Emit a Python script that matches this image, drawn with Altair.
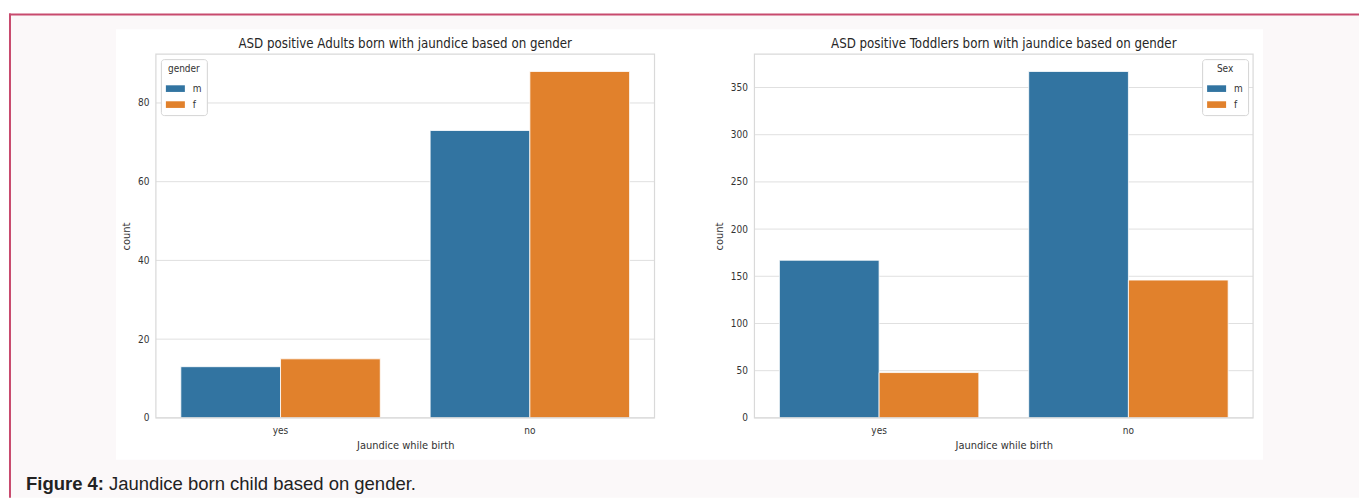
import altair as alt
import pandas as pd

# ---- data -------------------------------------------------------------
jaundice = ["yes", "no"]
sexes = ["m", "f"]

adult_m = [13, 73]
adult_f = [15, 88]
toddler_m = [167, 367]
toddler_f = [48, 146]

adult_ticks = [0, 20, 40, 60, 80]
toddler_ticks = [0, 50, 100, 150, 200, 250, 300, 350]

adult_title = "ASD positive Adults born with jaundice based on gender"
toddler_title = "ASD positive Toddlers born with jaundice based on gender"
caption_bold = "Figure 4:"
caption_text = "Jaundice born child based on gender."

# ---- style ------------------------------------------------------------
BLUE = "#3274a1"
ORANGE = "#e1812c"
GRID = "#e0e0e0"
SPINE = "#d9d9d9"
INK = "#333333"
FONT = "DejaVu Sans Condensed, DejaVu Sans"
CAP_FONT = "Liberation Sans, Arial, sans-serif"
W, H = 499, 364          # plot area of each panel
PANEL_GAP = 100


def table(m_vals, f_vals):
    rows = []
    for j, m, f in zip(jaundice, m_vals, f_vals):
        rows.append({"jaundice": j, "sex": "m", "count": m})
        rows.append({"jaundice": j, "sex": "f", "count": f})
    return pd.DataFrame(rows)


one = pd.DataFrame({"k": [0]})


def panel(df, ticks, title, legend_title, legend_orient, extra_back=None, extra_front=None):
    ymax = df["count"].max() * 1.05
    yscale = alt.Scale(domain=[0, ymax], nice=False, zero=True)

    yaxis = alt.Axis(
        title="count", values=ticks, format="d", grid=False, ticks=False, tickSize=0,
        domain=False, labelPadding=7, titlePadding=6, labelFont=FONT, labelFontSize=10,
        labelColor=INK, titleFont=FONT, titleFontSize=11, titleFontWeight="normal",
        titleColor=INK, zindex=1,
    )
    xaxis = alt.Axis(
        title="Jaundice while birth", labelAngle=0, grid=False, ticks=False, tickSize=0,
        domain=False, labelPadding=8, titlePadding=4, labelFont=FONT, labelFontSize=10,
        labelColor=INK, titleFont=FONT, titleFontSize=11, titleFontWeight="normal",
        titleColor=INK, zindex=1,
    )

    grid = alt.Chart(pd.DataFrame({"count": ticks})).mark_rule(
        color=GRID, strokeWidth=1
    ).encode(
        y=alt.Y("count:Q", scale=yscale, axis=yaxis),
        x=alt.value(0),
        x2=alt.value(W),
    )

    bars = alt.Chart(df).mark_bar(stroke="white", strokeWidth=0.8).encode(
        x=alt.X("jaundice:N", sort=jaundice, axis=xaxis,
                scale=alt.Scale(paddingInner=0.2, paddingOuter=0.1)),
        xOffset=alt.XOffset("sex:N", sort=sexes,
                            scale=alt.Scale(paddingInner=0, paddingOuter=0)),
        y=alt.Y("count:Q", scale=yscale, axis=yaxis),
        color=alt.Color(
            "sex:N",
            scale=alt.Scale(domain=sexes, range=[BLUE, ORANGE]),
            legend=alt.Legend(
                title=legend_title, orient=legend_orient, offset=5,
                fillColor="white", strokeColor="#d4d4d4", cornerRadius=3, padding=5,
                symbolType="M-1,-0.35L1,-0.35L1,0.35L-1,0.35Z", symbolSize=361,
                symbolStrokeWidth=0, labelFont=FONT, labelFontSize=10, labelColor=INK,
                labelOffset=8, titleFont=FONT, titleFontSize=10, rowPadding=1,
                titleFontWeight="normal", titleColor=INK, titleAnchor="middle",
                zindex=1,
            ),
        ),
    )

    frame = alt.Chart(one).mark_rect(filled=False, stroke=SPINE, strokeWidth=1.2).encode(
        x=alt.value(0), x2=alt.value(W), y=alt.value(0), y2=alt.value(H)
    )

    heading = alt.Chart(one).mark_text(
        text=title, font=FONT, fontSize=13.2, color="#262626",
        align="center", baseline="alphabetic",
    ).encode(x=alt.value(W / 2), y=alt.value(-6))

    layers = (extra_back or []) + [grid, bars, frame, heading] + (extra_front or [])
    return alt.layer(*layers).properties(width=W, height=H)


# page furniture, positioned relative to the left plot area (origin at 156, 54)
OX, OY = 156, 54
page = alt.Chart(one).mark_rect(color="white").encode(
    x=alt.value(-OX), x2=alt.value(1360 - OX), y=alt.value(-OY), y2=alt.value(498 - OY)
)
sheet = alt.Chart(one).mark_rect(color="#fbf8f9").encode(
    x=alt.value(10 - OX), x2=alt.value(1360 - OX), y=alt.value(14 - OY), y2=alt.value(498 - OY)
)
edge_left = alt.Chart(one).mark_rule(color="#c84a6e", strokeWidth=2).encode(
    x=alt.value(10 - OX), y=alt.value(13.3 - OY), y2=alt.value(498 - OY)
)
edge_top = alt.Chart(one).mark_rule(color="#c84a6e", strokeWidth=2).encode(
    y=alt.value(14.3 - OY), x=alt.value(9 - OX), x2=alt.value(1360 - OX)
)
figure_panel = alt.Chart(one).mark_rect(color="white").encode(
    x=alt.value(116 - OX), x2=alt.value(1264 - OX), y=alt.value(29 - OY), y2=alt.value(460 - OY)
)
cap1 = alt.Chart(one).mark_text(
    text=caption_bold, font=CAP_FONT, fontSize=18.5, fontWeight="bold", color="#222222",
    align="left", baseline="alphabetic",
).encode(x=alt.value(26 - OX), y=alt.value(490 - OY))
cap2 = alt.Chart(one).mark_text(
    text=caption_text, font=CAP_FONT, fontSize=18.5, color="#222222",
    align="left", baseline="alphabetic",
).encode(x=alt.value(109 - OX), y=alt.value(490 - OY))

left = panel(
    table(adult_m, adult_f), adult_ticks, adult_title, "gender", "top-left",
    extra_back=[page, sheet, edge_left, edge_top, figure_panel],
    extra_front=[cap1, cap2],
)
right = panel(table(toddler_m, toddler_f), toddler_ticks, toddler_title, "Sex", "top-right")

chart = alt.hconcat(left, right, spacing=PANEL_GAP, bounds="flush").resolve_scale(
    x="independent", y="independent", color="independent", xOffset="independent"
).resolve_legend(color="independent").properties(
    padding=0, background="white"
).configure_view(strokeOpacity=0)

chart.save("out.html", embed_options={"renderer": "svg", "actions": False})
